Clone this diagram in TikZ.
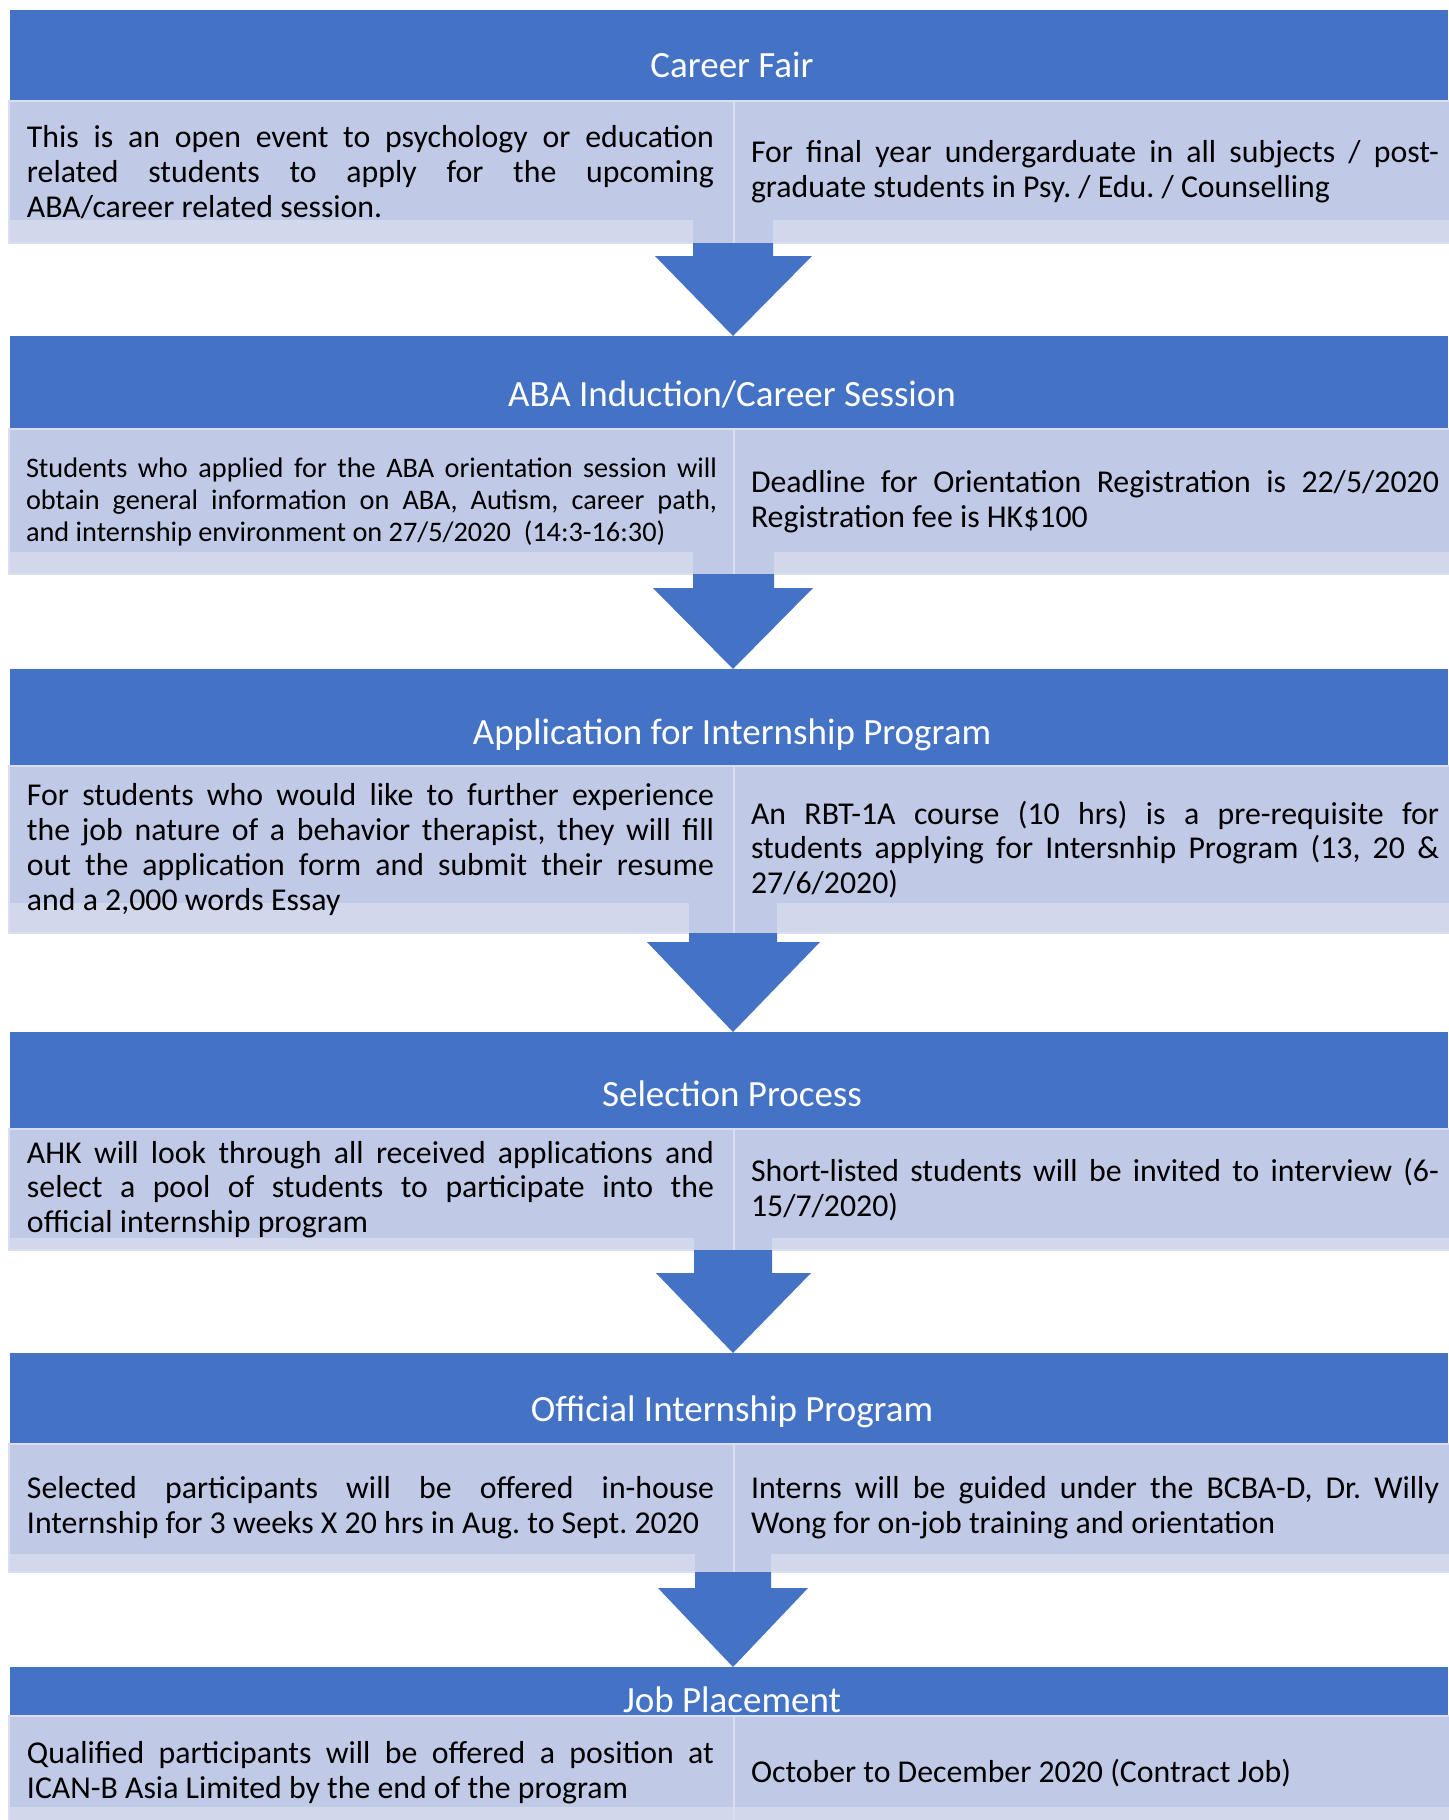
\documentclass[tikz,border=0pt]{standalone}
\usepackage{fontspec}
\setmainfont{Carlito}
\frenchspacing
\definecolor{hdrblue}{HTML}{4472C4}
\definecolor{cellc}{HTML}{C0C9E5}
\definecolor{bandc}{HTML}{D1D8EC}
\definecolor{cellline}{HTML}{D9DEF0}
\newcommand{\nohyph}{\hyphenpenalty=10000\relax\exhyphenpenalty=10000\relax\frenchspacing}
\tikzset{
  hdr/.style={fill=hdrblue, draw=none, inner sep=0pt, outer sep=0pt, minimum width=1438pt},
  hdrtext/.style={text=white, font=\fontsize{37}{44}\selectfont, anchor=base, inner sep=0pt},
  cellbox/.style={fill=cellc, draw=none, inner sep=0pt, outer sep=0pt},
  cellborder/.style={draw=cellline, line width=1.5pt},
  bodytext/.style={font={\fontsize{31.8}{34.8}\selectfont\nohyph},
    align=justify, inner sep=0pt, text width=687pt},
  smalltext/.style={font={\fontsize{28.3}{32}\selectfont\nohyph}, text width=691pt},
  blockarrow/.style={fill=hdrblue, draw=none},
}
% #1 name, #2 top, #3 header bottom, #4 cell bottom, #5 band top, #6 baseline offset,
% #7 header text, #8 left text, #9 right text
\newcommand{\stage}[9]{%
  \node[hdr, anchor=north west, minimum height={#3-#2}] (#1) at (10,#2) {};
  \node[hdrtext] (#1t) at (732,#3-#6) {#7};
  \node[cellbox, anchor=north west, minimum width=725pt, minimum height={#4-#3}] (#1l) at (9,#3) {};
  \node[cellbox, anchor=north west, minimum width=724pt, minimum height={#4-#3}] (#1r) at (734,#3) {};
  \fill[bandc] (9,#5) rectangle (734,#4);
  \fill[bandc] (734,#5) rectangle (1458,#4);
  \draw[cellborder] (#1l.north west) rectangle (#1l.south east);
  \draw[cellborder] (#1r.north west) rectangle (#1r.south east);
  \node[bodytext] (#1lt) at (370.5,{(#3+#4)/2}) {#8};
  \node[bodytext, text width=688pt] (#1rt) at (1095,{(#3+#4)/2}) {#9};
}
% #1 upper stage, #2 lower stage, #3 shaft left, #4 shaft right, #5 band top,
% #6 cell bottom, #7 shaft bottom, #8 head left, #9 head right
\newcommand{\flow}[9]{%
  \fill[cellc] (#3,#5) rectangle (#4,#6);
  \draw[cellborder] (734,#5) -- (734,#6);
  \fill[blockarrow] (#3,#6) -- (#3,#7) -- (#8,#7) -- ([xshift=4pt]#2.north)
    -- (#9,#7) -- (#4,#7) -- (#4,#6) -- cycle;
}
\begin{document}
\begin{tikzpicture}[x=1pt, y=-1pt]
\useasboundingbox (0,0) rectangle (1448,1820);
\fill[white] (0,0) rectangle (1448,1820);

\stage{s1}{10}{101}{243}{220}{24}{Career Fair}
  {This is an open event to psychology or education\linebreak related students to apply for the upcoming\linebreak ABA/career related session.}
  {For final year undergarduate in all subjects / post-\linebreak graduate students in Psy. / Edu. / Counselling}

\stage{s2}{336}{429}{574}{552}{23}{ABA Induction/Career Session}
  {}
  {Deadline for Orientation Registration is 22/5/2020\linebreak Registration fee is HK\$100}
\node[bodytext, smalltext] (s2ltx) at (371.5,501.5) {Students who applied for the ABA orientation session will\linebreak obtain general information on ABA, Autism, career path,\linebreak and internship environment on 27/5/2020~~(14:3-16:30)};

\stage{s3}{669}{766}{933}{903}{22}{Application for Internship Program}
  {For students who would like to further experience\linebreak the job nature of a behavior therapist, they will fill\linebreak out the application form and submit their resume\linebreak and a 2,000 words Essay}
  {An RBT-1A course (10 hrs) is a pre-requisite for\linebreak students applying for Intersnhip Program (13, 20 \&\linebreak 27/6/2020)}

\stage{s4}{1032}{1129}{1250}{1238}{23}{Selection Process}
  {AHK will look through all received applications and\linebreak select a pool of students to participate into the\linebreak official internship program}
  {Short-listed students will be invited to interview (6-\linebreak 15/7/2020)}

\stage{s5}{1353}{1444}{1572}{1554}{23}{Official Internship Program}
  {Selected participants will be offered in-house\linebreak Internship for 3 weeks X 20 hrs in Aug. to Sept. 2020}
  {Interns will be guided under the BCBA-D, Dr. Willy\linebreak Wong for on-job training and orientation}

\stage{s6}{1667}{1716}{1830}{1807}{4}{Job Placement}
  {Qualified participants will be offered a position at\linebreak ICAN-B Asia Limited by the end of the program}
  {October to December 2020 (Contract Job)}

\flow{s1}{s2}{693}{773}{220}{243}{256}{655}{812}
\flow{s2}{s3}{693}{774}{552}{574}{588}{653}{813}
\flow{s3}{s4}{689}{777}{903}{933}{942}{647}{820}
\flow{s4}{s5}{694}{772}{1238}{1250}{1273}{656}{811}
\flow{s5}{s6}{695}{771}{1554}{1572}{1588}{658}{808}
\end{tikzpicture}
\end{document}
